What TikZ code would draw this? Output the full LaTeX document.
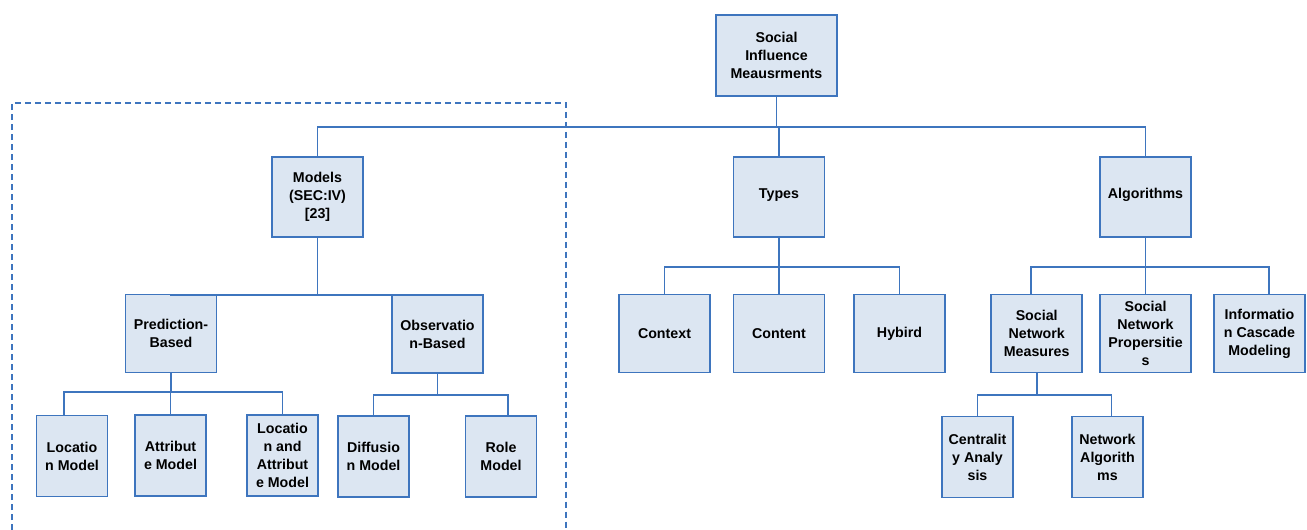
\documentclass[tikz,border=0pt]{standalone}
\usepackage{fontspec}
\setmainfont{Liberation Sans}
\definecolor{boxfill}{RGB}{220,230,242}
\definecolor{boxline}{RGB}{62,117,190}
\tikzset{
    box/.style={draw=boxline, fill=boxfill, line width=1pt, align=center,
        inner sep=1pt, font=\bfseries\fontsize{8.1}{10.2}\selectfont},
    rootbox/.style={box, minimum width=2.42cm, minimum height=1.62cm},
    topbox/.style={box, minimum width=1.82cm, minimum height=1.6cm},
    midbox/.style={box, minimum width=1.82cm, minimum height=1.56cm},
    leafbox/.style={box, minimum width=1.42cm, minimum height=1.62cm},
    link/.style={draw=boxline, line width=1.1pt},
}
\begin{document}
\begin{tikzpicture}[x=0.02cm, y=-0.02cm]
\useasboundingbox (0,0) rectangle (1307,530);
% models part
\draw[boxline, line width=0.8pt, dash pattern=on 0.12cm off 0.08cm]
    (12,540) |- (566,103) -- (566,540);

\node[rootbox] (root) at (776.5,55.5) {Social\\Influence\\Meausrments};

\node[topbox] (models) at (317.5,197) {Models\\(SEC:IV)\\{}[23]};
\node[topbox] (types) at (779,197) {\raisebox{0.13cm}{Types}};
\node[topbox] (algorithms) at (1145.5,197) {\raisebox{0.13cm}{Algorithms}};

\node[midbox] (pred) at (171,333.5) {Prediction-\\Based};
\node[midbox] (obs) at (437.5,334) {Observatio\\n-Based};
\node[midbox] (context) at (664.5,333.5) {Context};
\node[midbox] (content) at (779,333.5) {Content};
\node[midbox] (hybird) at (899.5,333.5) {Hybird};
\node[midbox] (snm) at (1036.7,333.5) {Social\\Network\\Measures};
\node[midbox] (snp) at (1145.5,333.5) {Social\\Network\\Propersitie\\s};
\node[midbox] (icm) at (1259.5,333.5) {Informatio\\n Cascade\\Modeling};

\node[leafbox] (loc) at (72,456) {Locatio\\n Model};
\node[leafbox] (attr) at (170.5,455.5) {Attribut\\e Model};
\node[leafbox] (locattr) at (282.5,455.5) {Locatio\\n and\\Attribut\\e Model};
\node[leafbox] (diff) at (373.5,456.5) {Diffusio\\n Model};
\node[leafbox] (role) at (501,456.5) {Role\\Model};
\node[leafbox] (cent) at (977.5,457) {Centralit\\y Analy\\sis};
\node[leafbox] (netalg) at (1107.5,457) {Network\\Algorith\\ms};

% connectors
\draw[link] (root.south) -- ++(0,30) -| (models.north);
\draw[link] (root.south) -- ++(0,30) -| (types.north);
\draw[link] (root.south) -- ++(0,30) -| (algorithms.north);

\draw[link] (models.south) -- ++(0,57) -| (pred.north);
\draw[link] (models.south) -- ++(0,57) -| (obs.north);

\draw[link] (types.south) -- ++(0,29) -| (context.north);
\draw[link] (types.south) -- ++(0,29) -| (content.north);
\draw[link] (types.south) -- ++(0,29) -| (hybird.north);

\draw[link] (algorithms.south) -- ++(0,29) -| ([xshift=-0.12cm]snm.north);
\draw[link] (algorithms.south) -- ++(0,29) -| (snp.north);
\draw[link] (algorithms.south) -- ++(0,29) -| ([xshift=0.19cm]icm.north);

\draw[link] (pred.south) -- ++(0,19) -| ([xshift=-0.16cm]loc.north);
\draw[link] (pred.south) -- ++(0,19) -| (attr.north);
\draw[link] (pred.south) -- ++(0,19) -| (locattr.north);

\draw[link] (obs.south) -- ++(0,21) -| (diff.north);
\draw[link] (obs.south) -- ++(0,21) -| ([xshift=0.14cm]role.north);

\draw[link] (snm.south) -- ++(0,22) -| (cent.north);
\draw[link] (snm.south) -- ++(0,22) -| ([xshift=0.08cm]netalg.north);
\end{tikzpicture}
\end{document}
